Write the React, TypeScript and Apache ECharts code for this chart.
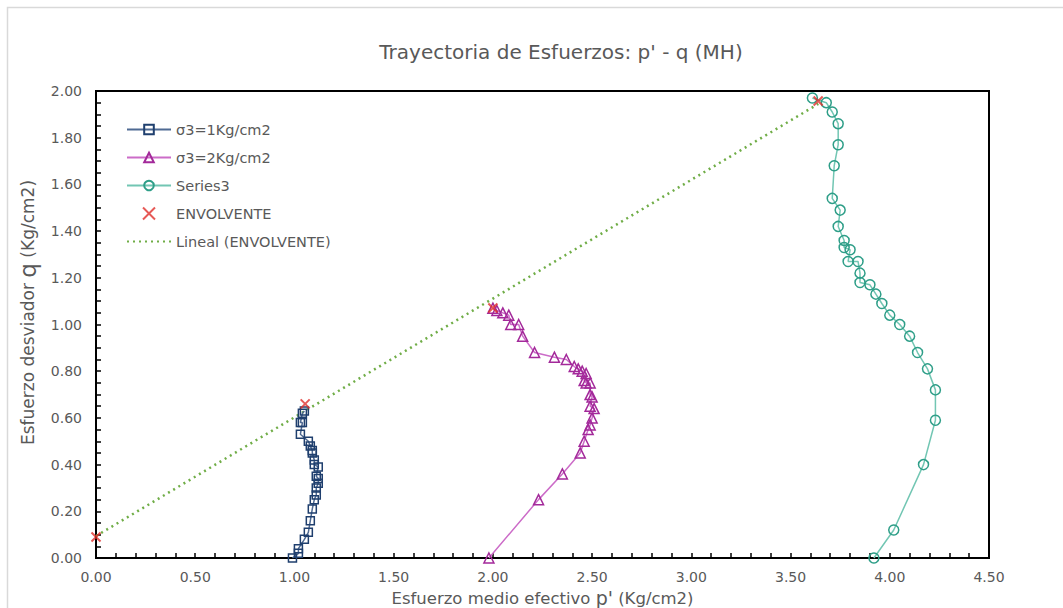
import React, { useEffect, useRef } from "react";
import * as echarts from "echarts";

// Series 1: σ3=1Kg/cm2
const p1 = [0.99, 1.02, 1.02, 1.05, 1.07, 1.08, 1.09, 1.10, 1.11, 1.11, 1.12, 1.12, 1.11, 1.12, 1.10, 1.10, 1.09, 1.09, 1.08, 1.07, 1.03, 1.04, 1.03, 1.04, 1.05];
const q1 = [0.00, 0.02, 0.04, 0.08, 0.11, 0.16, 0.21, 0.25, 0.27, 0.30, 0.32, 0.34, 0.35, 0.39, 0.40, 0.42, 0.45, 0.46, 0.48, 0.50, 0.53, 0.58, 0.58, 0.62, 0.63];

// Series 2: σ3=2Kg/cm2
const p2 = [1.98, 2.23, 2.35, 2.44, 2.46, 2.48, 2.49, 2.50, 2.51, 2.49, 2.50, 2.49, 2.49, 2.47, 2.46, 2.47, 2.45, 2.43, 2.41, 2.37, 2.31, 2.21, 2.15, 2.13, 2.09, 2.08, 2.05, 2.02, 2.00];
const q2 = [0.00, 0.25, 0.36, 0.45, 0.50, 0.55, 0.57, 0.60, 0.64, 0.65, 0.69, 0.70, 0.75, 0.75, 0.76, 0.79, 0.80, 0.81, 0.82, 0.85, 0.86, 0.88, 0.95, 1.00, 1.00, 1.04, 1.05, 1.06, 1.07];

// Series 3
const p3 = [3.92, 4.02, 4.17, 4.23, 4.23, 4.19, 4.14, 4.10, 4.05, 4.00, 3.96, 3.93, 3.90, 3.85, 3.85, 3.84, 3.79, 3.80, 3.77, 3.77, 3.74, 3.75, 3.71, 3.72, 3.74, 3.74, 3.71, 3.68, 3.61];
const q3 = [0.00, 0.12, 0.40, 0.59, 0.72, 0.81, 0.88, 0.95, 1.00, 1.04, 1.09, 1.13, 1.17, 1.18, 1.22, 1.27, 1.27, 1.32, 1.33, 1.36, 1.42, 1.49, 1.54, 1.68, 1.77, 1.86, 1.91, 1.95, 1.97];

// ENVOLVENTE
const pEnv = [0.00, 1.054, 2.00, 3.639];
const qEnv = [0.09, 0.66, 1.071, 1.957];

// Lineal (ENVOLVENTE) trend line end points
const pLin = [0.00, 3.64];
const qLin = [0.094, 1.945];

const xTicks = { min: 0, max: 4.5, interval: 0.5 };
const yTicks = { min: 0, max: 2.0, interval: 0.2 };

const zip = (a: number[], b: number[]) => a.map((v, i) => [v, b[i]]);

const FONT = "DejaVu Sans";
const GREY = "#595959";

export default function App() {
  const ref = useRef<HTMLDivElement>(null);
  useEffect(() => {
    const chart = echarts.init(ref.current!, null, { renderer: "svg" });
    chart.setOption({
      animation: false,
      backgroundColor: "#ffffff",
      textStyle: { fontFamily: FONT },
      title: {
        text: "Trayectoria de Esfuerzos: p' - q (MH)",
        left: 556,
        top: 37,
        textAlign: "center",
        textStyle: { fontFamily: FONT, fontSize: 20, fontWeight: "normal", color: GREY },
      },
      graphic: [
        {
          type: "rect",
          shape: { x: 7.5, y: 7.5, width: 1200, height: 800 },
          style: { fill: "none", stroke: "#d9d9d9", lineWidth: 1.5 },
          silent: true,
        },
      ],
      grid: {
        left: 96,
        top: 91,
        right: 74,
        bottom: 50,
        containLabel: false,
        outerBoundsMode: "none",
        show: true,
        borderColor: "#000",
        borderWidth: 2,
        backgroundColor: "transparent",
      },
      legend: {
        orient: "vertical",
        left: 121,
        top: 117,
        itemWidth: 44,
        itemHeight: 12,
        itemGap: 13,
        textStyle: { fontFamily: FONT, fontSize: 14.5, color: GREY },
        data: [
          "σ3=1Kg/cm2",
          "σ3=2Kg/cm2",
          "Series3",
          "ENVOLVENTE",
          { name: "Lineal (ENVOLVENTE)", itemStyle: { opacity: 0 } },
        ],
      },
      xAxis: {
        type: "value",
        min: xTicks.min,
        max: xTicks.max,
        interval: xTicks.interval,
        name: "{a|Esfuerzo medio efectivo }{b|p'}{a| (Kg/cm2)}",
        nameLocation: "middle",
        nameGap: 10,
        nameTextStyle: {
          rich: {
            a: { fontFamily: FONT, fontSize: 16.5, lineHeight: 18, color: GREY },
            b: { fontFamily: FONT, fontSize: 19, lineHeight: 18, color: GREY },
          },
        },
        axisLine: { lineStyle: { color: "#000", width: 2 } },
        axisTick: { show: true, inside: true, length: 5, lineStyle: { color: "#000", width: 1.5 } },
        minorTick: { show: true, splitNumber: 5, length: 5, lineStyle: { color: "#000", width: 1.5 } },
        splitLine: { show: false },
        axisLabel: { color: GREY, fontFamily: FONT, fontSize: 14, margin: 12, formatter: (v: number) => v.toFixed(2) },
      },
      yAxis: {
        type: "value",
        min: yTicks.min,
        max: yTicks.max,
        interval: yTicks.interval,
        name: "{a|Esfuerzo desviador }{b|q}{a| (Kg/cm2)}",
        nameLocation: "middle",
        nameRotate: 90,
        nameGap: 30,
        nameTextStyle: {
          padding: [0, 0, 0, 24],
          rich: {
            a: { fontFamily: FONT, fontSize: 17, color: GREY },
            b: { fontFamily: FONT, fontSize: 23, color: GREY },
          },
        },
        axisLine: { lineStyle: { color: "#000", width: 2 } },
        axisTick: { show: true, inside: true, length: 5, lineStyle: { color: "#000", width: 1.5 } },
        minorTick: { show: true, splitNumber: 4, length: 5, lineStyle: { color: "#000", width: 1.5 } },
        splitLine: { show: false },
        axisLabel: { color: GREY, fontFamily: FONT, fontSize: 14, margin: 14, formatter: (v: number) => v.toFixed(2) },
      },
      series: [
        {
          name: "Lineal (ENVOLVENTE)",
          type: "line",
          data: zip(pLin, qLin),
          showSymbol: false,
          symbol: "none",
          lineStyle: { color: "#70ad47", width: 2.5, type: [2, 4] },
          itemStyle: { color: "#70ad47" },
          z: 1,
        },
        {
          name: "σ3=1Kg/cm2",
          type: "line",
          data: zip(p1, q1),
          symbol: "rect",
          symbolSize: 8,
          lineStyle: { color: "#4f6a93", width: 1.5 },
          itemStyle: { color: "rgba(255,255,255,0)", borderColor: "#1f3f6e", borderWidth: 1.5 },
          z: 3,
        },
        {
          name: "σ3=2Kg/cm2",
          type: "line",
          data: zip(p2, q2),
          symbol: "triangle",
          symbolSize: 10,
          lineStyle: { color: "#cc6cc8", width: 1.5 },
          itemStyle: { color: "rgba(255,255,255,0)", borderColor: "#a3299a", borderWidth: 1.5 },
          z: 3,
        },
        {
          name: "Series3",
          type: "line",
          data: zip(p3, q3),
          symbol: "circle",
          symbolSize: 10,
          lineStyle: { color: "#72c6b3", width: 1.5 },
          itemStyle: { color: "rgba(255,255,255,0)", borderColor: "#2e9e88", borderWidth: 1.5 },
          z: 3,
        },
        {
          name: "ENVOLVENTE",
          type: "scatter",
          data: zip(pEnv, qEnv),
          symbol: "path://M0 0L10 10M10 0L0 10",
          symbolSize: 9,
          itemStyle: { color: "rgba(255,255,255,0)", borderColor: "#e0302c", borderWidth: 2 },
          z: 4,
        },
      ],
    });
    return () => chart.dispose();
  }, []);
  return <div ref={ref} style={{ position: "absolute", left: 0, top: 0, width: 1063, height: 608 }} />;
}
